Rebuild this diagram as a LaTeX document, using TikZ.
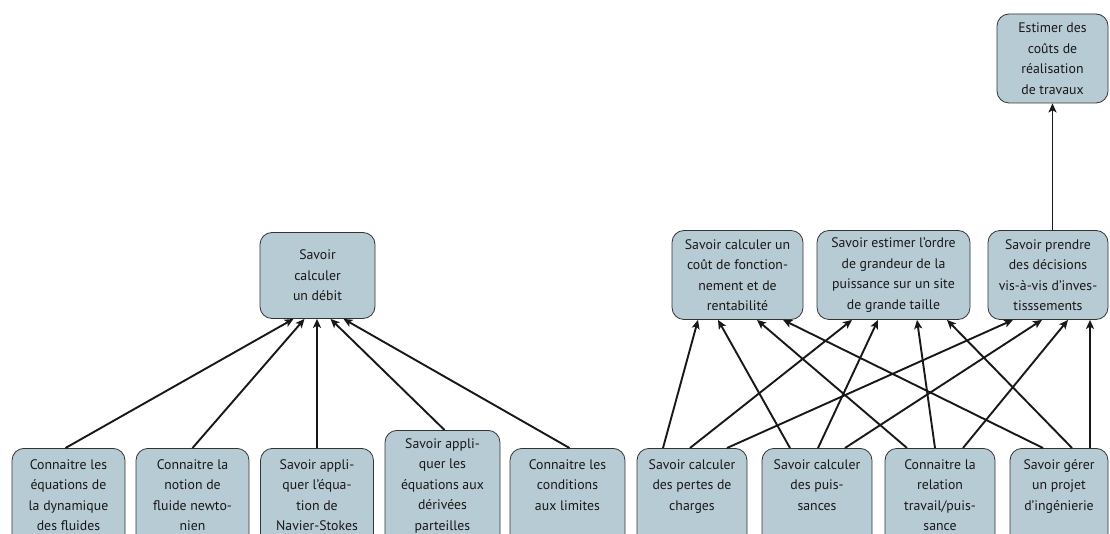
\documentclass[tikz,border=0pt]{standalone}
\usepackage{fontspec}
\setmainfont{PT Sans}
\usepackage{tikz}
\usepackage{xcolor}
\usetikzlibrary{arrows.meta,positioning,calc}
\definecolor{boxfill}{HTML}{B7CBD4}
\definecolor{boxline}{HTML}{333333}
\definecolor{ink}{HTML}{1A1718}
\tikzset{
  skillbox/.style={draw=boxline,fill=boxfill,line width=0.8pt,
                   rounded corners=12pt,inner sep=0pt},
  skilltext/.style={align=center,text=ink,inner sep=0pt,
                    font=\fontsize{13.8}{20.5}\selectfont},
  goalbox/.style={skillbox,skilltext,minimum height=89pt},
  linkarr/.style={-{Stealth[length=9pt,width=8pt,inset=2.2pt]},
                  line width=1.9pt,color=ink}
}

\begin{document}
\begin{tikzpicture}[x=1pt,y=-1pt]
  \useasboundingbox (0,0) rectangle (1110,534);
  \clip (0,0) rectangle (1110,534);

  % left tree
  \node[goalbox,minimum width=115pt,minimum height=86pt] (debit) at (317.5,275.5)
    {Savoir\\calculer\\un débit};

  \node[skillbox,anchor=north,minimum width=113pt,minimum height=110pt] (eqdyn) at (68.5,448) {};
  \node[skilltext,anchor=north] (eqdyntxt) at ([yshift=-11pt]eqdyn.north)
    {Connaitre les\\équations de\\la dynamique\\des fluides};
  \node[skillbox,anchor=north,minimum width=113pt,minimum height=110pt] (newton) at (192.5,448) {};
  \node[skilltext,anchor=north] (newtontxt) at ([yshift=-11pt]newton.north)
    {Connaitre la\\notion de\\fluide newto-\\nien};
  \node[skillbox,anchor=north,minimum width=113pt,minimum height=110pt] (navier) at (317,448) {};
  \node[skilltext,anchor=north] (naviertxt) at ([yshift=-11pt]navier.north)
    {Savoir appli-\\quer l’équa-\\tion de\\Navier-Stokes};
  \node[skillbox,anchor=north,minimum width=115pt,minimum height=120pt] (derpart) at (442.5,430) {};
  \node[skilltext,anchor=north] (derparttxt) at ([yshift=-8pt]derpart.north)
    {Savoir appli-\\quer les\\équations aux\\dérivées\\parteilles};
  \node[skillbox,anchor=north,minimum width=115pt,minimum height=110pt] (condlim) at (567.5,448) {};
  \node[skilltext,anchor=north] (condlimtxt) at ([yshift=-11pt]condlim.north)
    {Connaitre les\\conditions\\aux limites};

  \draw[linkarr] ([xshift=-3pt]eqdyn.north) -- ([xshift=-24pt]debit.south);
  \draw[linkarr] (newton.north) -- ([xshift=-13pt]debit.south);
  \draw[linkarr] (navier.north) -- (navier.north |- debit.south);
  \draw[linkarr] ([xshift=2pt]derpart.north) -- ([xshift=13pt]debit.south);
  \draw[linkarr] ([xshift=2pt]condlim.north) -- ([xshift=26pt]debit.south);

  % right tree
  \node[goalbox,minimum width=131pt] (cout) at (737.5,275)
    {Savoir calculer un\\coût de fonction-\\nement et de\\rentabilité};
  \node[goalbox,minimum width=153pt] (ordre) at (893.5,275)
    {Savoir estimer l’ordre\\de grandeur de la\\puissance sur un site\\de grande taille};
  \node[goalbox,minimum width=120pt] (decision) at (1048,275)
    {Savoir prendre\\des décisions\\vis-à-vis d’inves-\\tisssements};
  \node[goalbox,minimum width=111pt] (travaux) at (1052.5,58.5)
    {Estimer des\\coûts de\\réalisation\\de travaux};

  \node[skillbox,anchor=north,minimum width=110pt,minimum height=110pt] (pertes) at (692,448) {};
  \node[skilltext,anchor=north] (pertestxt) at ([yshift=-11pt]pertes.north)
    {Savoir calculer\\des pertes de\\charges};
  \node[skillbox,anchor=north,minimum width=110pt,minimum height=110pt] (puiss) at (817,448) {};
  \node[skilltext,anchor=north] (puisstxt) at ([yshift=-11pt]puiss.north)
    {Savoir calculer\\des puis-\\sances};
  \node[skillbox,anchor=north,minimum width=110pt,minimum height=110pt] (travail) at (940,448) {};
  \node[skilltext,anchor=north] (travailtxt) at ([yshift=-11pt]travail.north)
    {Connaitre la\\relation\\travail/puis-\\sance};
  \node[skillbox,anchor=north,minimum width=98pt,minimum height=110pt] (projet) at (1059,448) {};
  \node[skilltext,anchor=north] (projettxt) at ([yshift=-11pt]projet.north)
    {Savoir gérer\\un projet\\d’ingénierie};

  \draw[linkarr] ([xshift=-29pt]pertes.north) -- ([xshift=-39.5pt]cout.south);
  \draw[linkarr] ([xshift=-2pt]pertes.north) -- ([xshift=-41.5pt]ordre.south);
  \draw[linkarr] ([xshift=35pt]pertes.north) -- ([xshift=-35pt]decision.south);

  \draw[linkarr] ([xshift=-27pt]puiss.north) -- ([xshift=-19.5pt]cout.south);
  \draw[linkarr] ([xshift=1pt]puiss.north) -- ([xshift=-15.5pt]ordre.south);
  \draw[linkarr] ([xshift=28pt]puiss.north) -- ([xshift=-6pt]decision.south);

  \draw[linkarr] ([xshift=-33pt]travail.north) -- ([xshift=19.5pt]cout.south);
  \draw[linkarr] ([xshift=-5pt]travail.north) -- ([xshift=23.5pt]ordre.south);
  \draw[linkarr] ([xshift=23pt]travail.north) -- ([xshift=20pt]decision.south);

  \draw[linkarr] ([xshift=-16pt]projet.north) -- ([xshift=45.5pt]cout.south);
  \draw[linkarr] ([xshift=13pt]projet.north) -- ([xshift=53.5pt]ordre.south);
  \draw[linkarr] ([xshift=31pt]projet.north) -- ([xshift=42pt]decision.south);

  \draw[linkarr] (decision.north -| travaux.south) -- (travaux.south);
\end{tikzpicture}
\end{document}
